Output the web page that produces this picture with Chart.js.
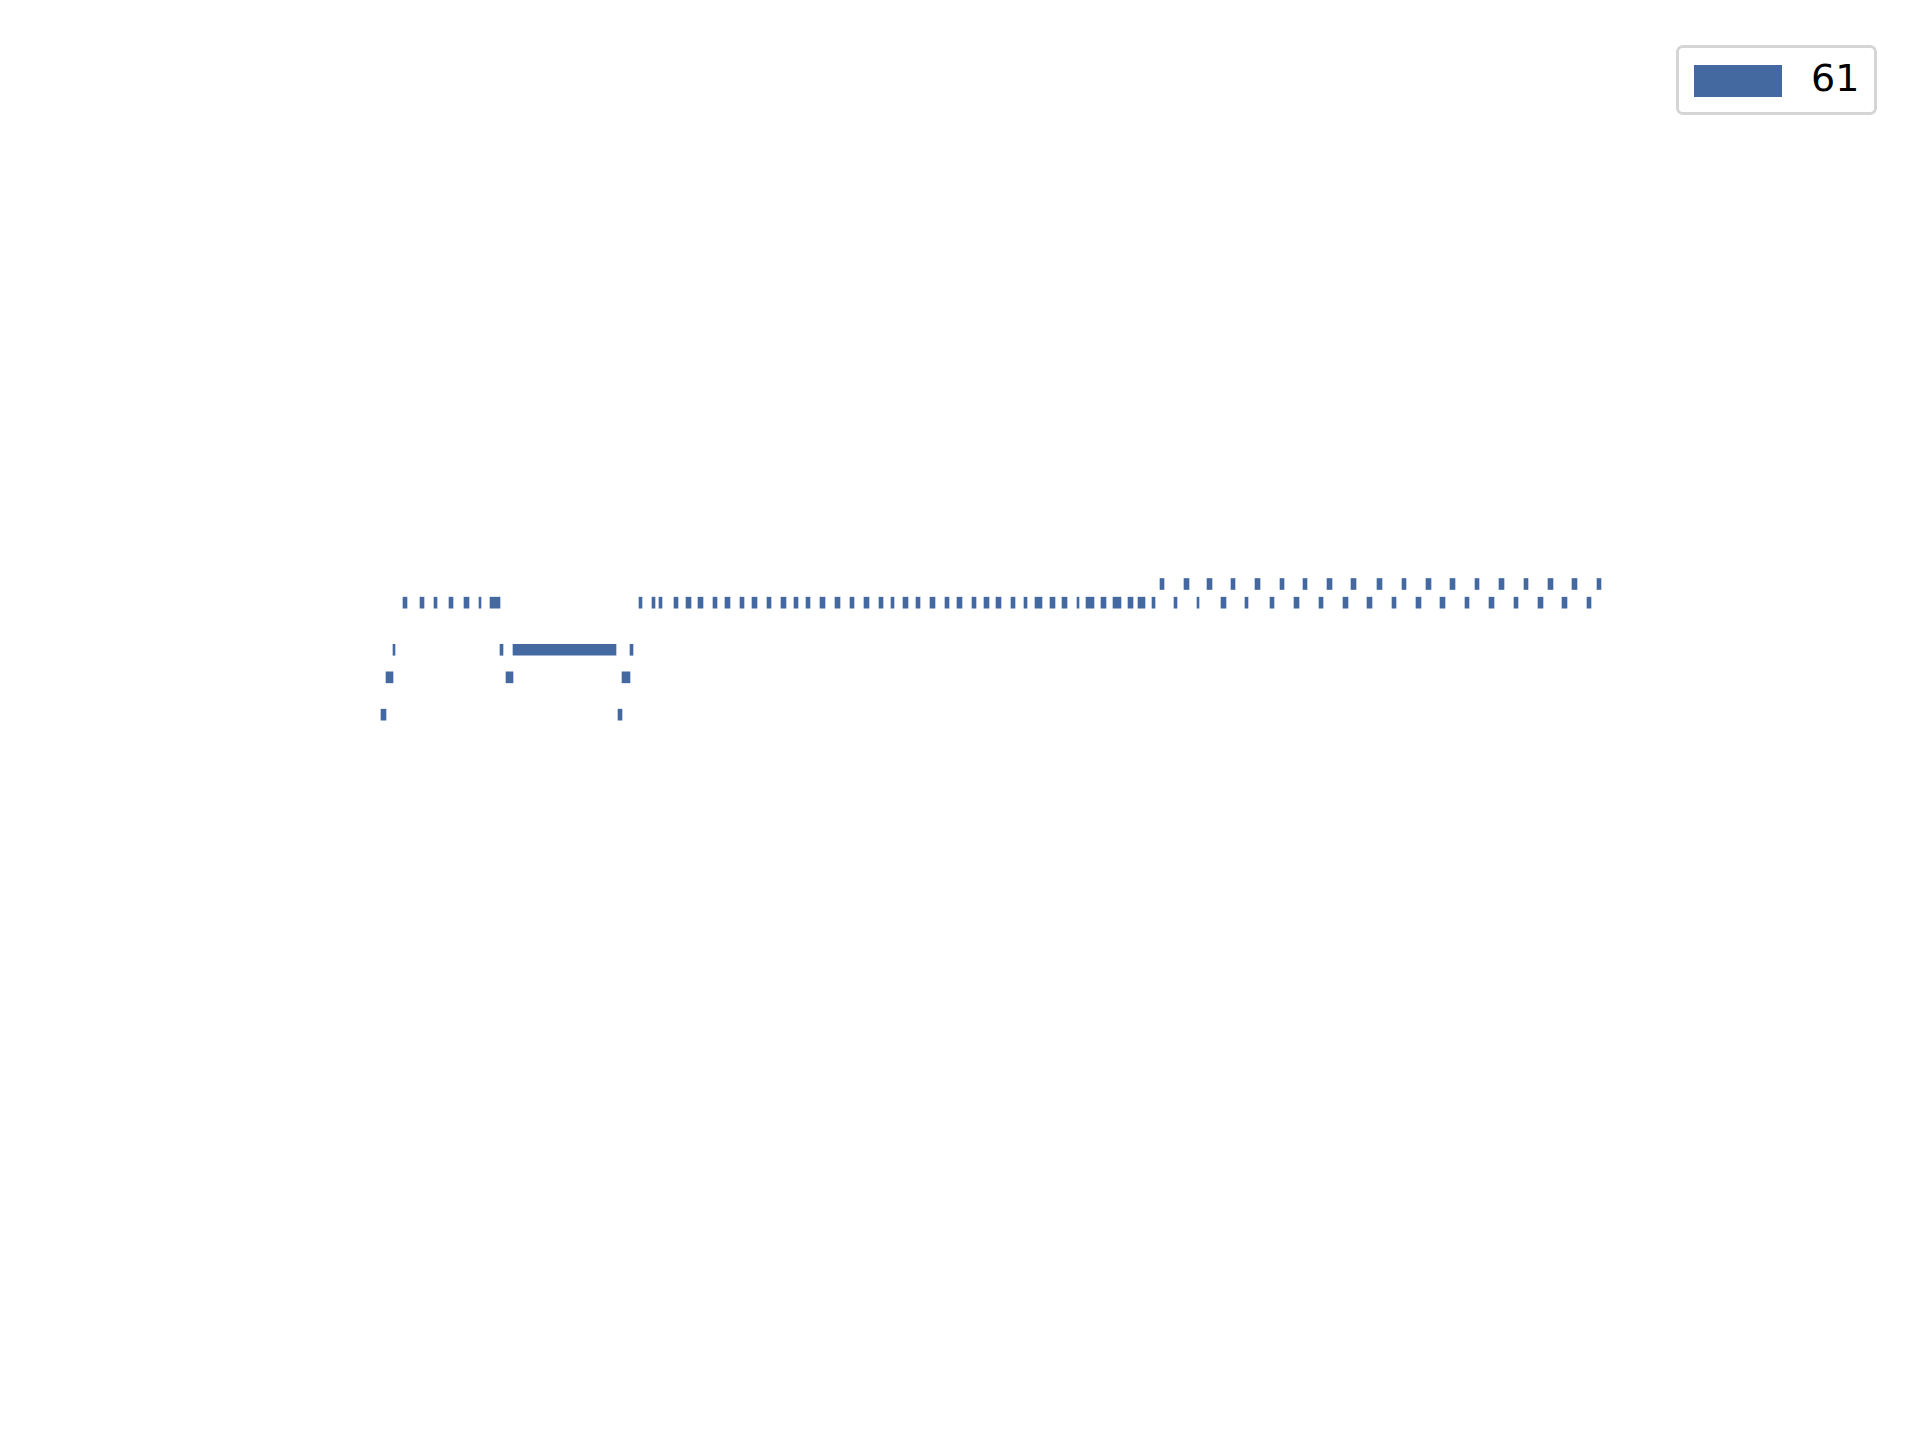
<!DOCTYPE html>
<html><head><meta charset="utf-8">
<script src="https://cdn.jsdelivr.net/npm/chart.js@4"></script>
<style>
html,body{margin:0;padding:0;background:#fff;}
#wrap{position:relative;width:1920px;height:1440px;}
#legend{position:absolute;left:1676px;top:45px;width:201px;height:70px;border:3px solid #d5d5d5;border-radius:7px;box-sizing:border-box;background:#fff;font-family:"DejaVu Sans",sans-serif;font-size:38px;color:#000;}
#legend .sw{position:absolute;left:15px;top:17px;width:88px;height:32px;background:#4469a1;}
#legend .tx{position:absolute;left:132px;top:8px;}
</style></head>
<body><div id="wrap"><canvas id="c" width="1920" height="1440"></canvas>
<div id="legend"><div class="sw"></div><div class="tx">61</div></div></div>
<script>
const seriesName = "61";
const laneY = [567, 588, 641, 672, 714];
const laneA = [[1160,1164],[1184,1189],[1207,1212],[1231,1235],[1255,1260],[1280,1284],[1303,1307],[1327,1332],[1351,1356],[1377,1382],[1402,1406],[1426,1431],[1450,1455],[1475,1479],[1499,1504],[1524,1528],[1548,1553],[1572,1577],[1597,1601]];
const laneB = [[403,407],[420,424],[434,437],[449,453],[464,469],[479,481],[490,500],
 [639,642],[652,655],[659,662],[674,678],[686,691],[698,703],[713,717],[725,730],[740,744],[752,757],[767,771],[781,786],
 [794,798],[806,810],[820,825],[835,840],[850,854],[864,869],[879,883],[891,894],[903,908],[916,920],[930,935],[945,949],[957,962],[972,976],[984,989],[996,1001],[1011,1015],[1024,1027],[1035,1042],[1050,1055],[1062,1067],[1077,1079],[1086,1094],[1101,1106],[1113,1121],[1128,1133],[1138,1145],[1152,1155],[1174,1177],[1197,1199],
 [1221,1226],[1245,1248],[1270,1274],[1294,1299],[1319,1323],[1343,1348],[1367,1372],[1392,1396],[1416,1421],[1440,1445],[1465,1469],[1489,1494],[1514,1518],[1538,1543],[1562,1567],[1587,1591]];
const laneC = [[393,395],[500,503],[513,616],[630,633]];
const laneD = [[386,393],[506,513],[622,630]];
const laneE = [[381,386],[618,622]];
const lanes = [laneA, laneB, laneC, laneD, laneE];
const data = [];
lanes.forEach((segs,i)=>segs.forEach(s=>data.push({x:[s[0],s[1]], y:laneY[i]})));
new Chart(document.getElementById('c'), {
  type:'bar',
  data:{datasets:[{label:seriesName, data, backgroundColor:'#4469a1', borderWidth:0, barThickness:11, grouped:false}]},
  options:{
    indexAxis:'y', responsive:false, animation:false,
    layout:{padding:0},
    plugins:{legend:{display:false}, tooltip:{enabled:false}},
    scales:{
      x:{type:'linear', min:0, max:1920, display:false},
      y:{type:'linear', min:0, max:1440, reverse:true, display:false}
    }
  }
});
</script></body></html>
